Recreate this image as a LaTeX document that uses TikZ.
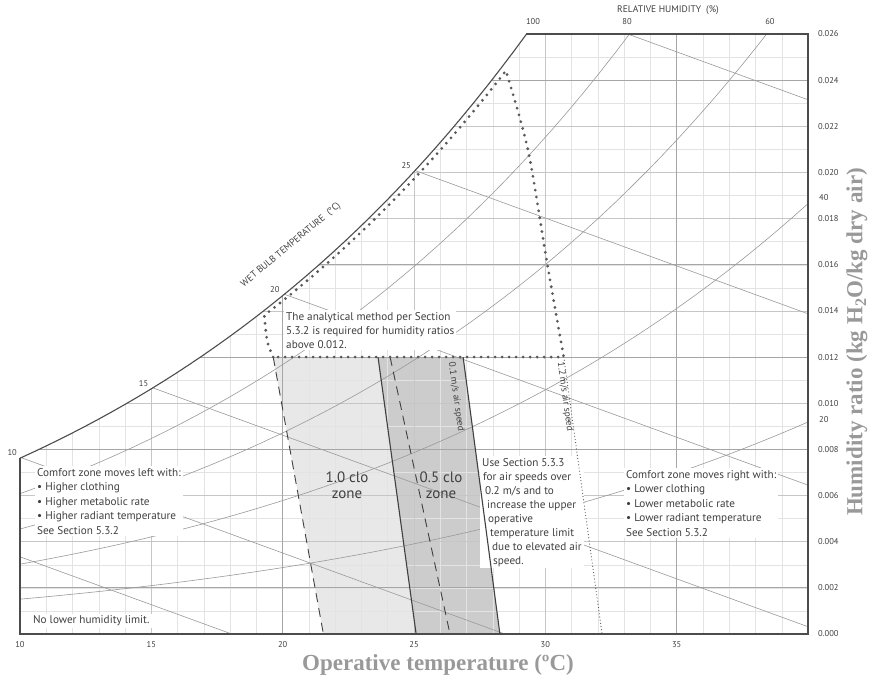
\documentclass[tikz,border=0pt]{standalone}
\usepackage{fontspec}
\setmainfont{PT Sans}
\newfontfamily\titlefont{Liberation Serif}
\usetikzlibrary{positioning, calc}

\definecolor{inkgray}{gray}{0.25}
\definecolor{titlegray}{gray}{0.6}
\definecolor{zonelight}{gray}{0.91}
\definecolor{zonedark}{gray}{0.80}

% saturation pressure (kPa) and humidity ratio (g/kg) at temperature #1, RH #2
\pgfmathdeclarefunction{psat}{1}{%
  \pgfmathparse{0.61094*exp(17.625*#1/(#1+243.04))}}
\pgfmathdeclarefunction{wsat}{2}{%
  \pgfmathparse{622*#2*psat(#1)/(101.325-#2*psat(#1))}}
\newcommand{\ind}[1]{\hspace*{#1pt}}

\tikzset{
  chart/.style={x=26.267pt, y=23.077pt, shift={(-242.67pt,48pt)}},
  minorgrid/.style={gray!22, line width=0.5pt},
  evengrid/.style={gray!45, line width=0.6pt},
  majorgrid/.style={gray!70, line width=1pt},
  chartline/.style={gray!80, line width=0.6pt},
  frame/.style={black!70, line width=1.1pt},
  zoneedge/.style={black!75, line width=1.1pt},
  zonedash/.style={black!75, line width=0.9pt, dash pattern=on 9pt off 6pt},
  bigdots/.style={black!65, line width=3.1pt, line cap=round, dash pattern=on 0pt off 7pt},
  smalldots/.style={black!65, line width=1.2pt, line cap=round, dash pattern=on 0pt off 3.2pt},
  tick/.style={font=\fontsize{8.5}{10}\selectfont, text=inkgray, inner sep=1pt},
  note/.style={font=\fontsize{11.2}{14}\selectfont, text=inkgray, align=left, fill=white, inner sep=2pt},
  zonelabel/.style={font=\fontsize{15}{16}\selectfont, text=inkgray, align=center},
  speedlabel/.style={font=\fontsize{9.5}{10}\selectfont, text=inkgray, inner sep=1pt},
  axistitle/.style={font=\titlefont\bfseries\fontsize{23}{26}\selectfont, text=titlegray},
}

\begin{document}
\begin{tikzpicture}[x=1pt, y=1pt]
  \useasboundingbox (0,0) rectangle (874,682);

  % chart body
  \begin{scope}[chart]
    \begin{scope}
      \clip (10,0) -- plot[domain=10:29.28, samples=40] (\x,{wsat(\x,1)}) -- (40,26) -- (40,0) -- cycle;
      \fill[zonelight] (19.64,12) -- (23.63,12) -- (25.08,0) -- (21.55,0) -- cycle;
      \fill[zonedark] (23.63,12) -- (26.87,12) -- (28.27,0) -- (25.08,0) -- cycle;

      \foreach \t in {10,...,40} \draw[minorgrid] (\t,0) -- (\t,26);
      \foreach \w in {0,...,26} \draw[minorgrid] (10,\w) -- (40,\w);
      \foreach \t in {15,25,30} \draw[evengrid] (\t,0) -- (\t,26);
      \foreach \w in {4,6,10,14,18,20,22} \draw[evengrid] (10,\w) -- (40,\w);
      \foreach \t in {20,35} \draw[majorgrid] (\t,0) -- (\t,26);
      \foreach \w in {2,8,12,16,24} \draw[majorgrid] (10,\w) -- (40,\w);

      % relative humidity
      \foreach \rh in {0.2,0.4,0.6,0.8}
        \draw[chartline] plot[domain=10:40, samples=50] (\x,{wsat(\x,\rh)});
      % wet bulb
      \foreach \t/\w in {5/5.42, 10/7.66, 15/10.69, 20/14.75, 25/20.1, 30/27.3}
        \draw[chartline] (\t,\w) -- ({\t+\w/0.415},0);
    \end{scope}

    \draw[frame] (29.28,26) -- (40,26) -- (40,0) -- (10,0) -- (10,{wsat(10,1)});
    \draw[frame] plot[domain=10:29.28, samples=40] (\x,{wsat(\x,1)});
  \end{scope}

  % notes
  \node[note, anchor=north west] (analytic) at (284,372)
    {The analytical method per Section\\5.3.2 is required for humidity ratios\\above 0.012.};
  \node[note, anchor=north west, font=\fontsize{11.2}{14.5}\selectfont] (moveleft) at (35,216)
    {Comfort zone moves left with:\\\textbullet\ Higher clothing\\\textbullet\ Higher metabolic rate\\\textbullet\ Higher radiant temperature\\See Section 5.3.2};
  \node[note, anchor=west] (nolimit) at (31,61) {No lower humidity limit.};
  \node[note, anchor=north west] (airspeed) at (480,226)
    {Use Section 5.3.3\\\ind{1}for air speeds over\\\ind{3}0.2 m/s and to\\\ind{5}increase the upper\\
     \ind{6}operative\\\ind{8}temperature limit\\\ind{10}due to elevated air\\\ind{11}speed.};
  \node[note, anchor=north west, font=\fontsize{11.2}{14.5}\selectfont] (moveright) at (624,214)
    {Comfort zone moves right with:\\\textbullet\ Lower clothing\\\textbullet\ Lower metabolic rate\\\textbullet\ Lower radiant temperature\\See Section 5.3.2};

  \node[zonelabel] (clo10) at (347,197) {1.0 clo\\zone};
  \node[zonelabel] (clo05) at (441,197) {0.5 clo\\zone};

  % zone edges and limits
  \begin{scope}[chart]
    \draw[zonedash] (19.64,12) -- (21.55,0);
    \draw[zonedash] (24.09,12) -- (26.37,0);
    \draw[zoneedge] (23.63,12) -- (25.08,0);
    \draw[zoneedge] (26.87,12) -- (28.27,0);

    \draw[bigdots] (19.64,12) .. controls (19.4,12.6) .. (19.3,{wsat(19.3,0.985)})
      -- plot[domain=19.3:28.5, samples=30] (\x,{wsat(\x,0.985)})
      -- plot[smooth] coordinates {(28.5,24.4) (29.34,20.97) (30.06,16.12) (30.7,12)}
      -- cycle;
    \draw[smalldots] (30.7,12) -- (32.16,0);

    % scales
    \foreach \t in {10,15,...,35}
      \node[tick, below=6pt] (tx\t) at (\t,0) {\t};
    \foreach \w/\lbl in {0/0.000, 2/0.002, 4/0.004, 6/0.006, 8/0.008, 10/0.010, 12/0.012,
                        14/0.014, 16/0.016, 18/0.018, 20/0.020, 22/0.022, 24/0.024, 26/0.026}
      \node[tick, anchor=west, xshift=9pt] (wy\w) at (40,\w) {\lbl};
    \node[tick, anchor=west, xshift=10pt] (rh40) at (40,18.9) {40};
    \node[tick, anchor=west, xshift=10pt] (rh20) at (40,9.3) {20};
    \node[tick, yshift=12pt] (rh100) at (29.53,26) {100};
    \node[tick, yshift=12pt] (rh80) at (33.11,26) {80};
    \node[tick, yshift=12pt] (rh60) at (38.55,26) {60};
    \foreach \t/\w in {10/7.66, 15/10.69, 20/14.75, 25/20.1}
      \node[tick, anchor=south east, xshift=-2pt] (wb\t) at (\t,\w) {\t};
  \end{scope}

  \node[tick, rotate=39.7, font=\fontsize{9.5}{10}\selectfont] (wbtitle) at (291,437) {WET BULB TEMPERATURE \ (°C)};
  \node[tick, font=\fontsize{9.5}{10}\selectfont] (rhtitle) at (668,672) {RELATIVE HUMIDITY \ (\%)};
  \node[speedlabel, rotate=-82] (slow) at (456,285) {0.1 m/s air speed};
  \node[speedlabel, rotate=-82] (fast) at (565,285) {1.2 m/s air speed};

  \node[axistitle] (xtitle) at (438,17) {Operative temperature (ºC)};
  \node[axistitle, rotate=90] (ytitle) at (857,340) {Humidity ratio (kg H\textsubscript{2}O/kg dry air)};
\end{tikzpicture}
\end{document}
